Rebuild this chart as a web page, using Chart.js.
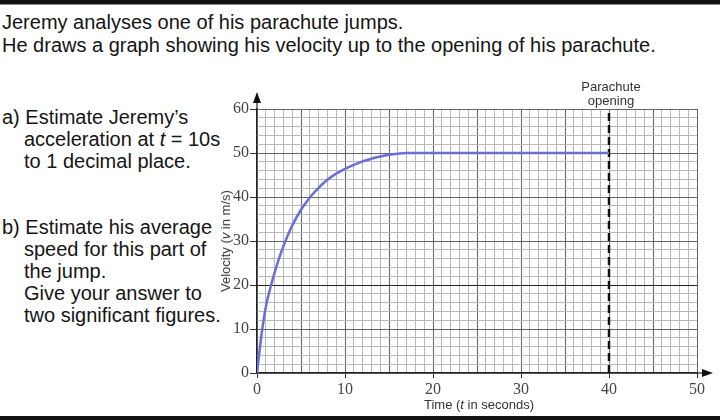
<!DOCTYPE html>
<html>
<head>
<meta charset="utf-8">
<script src="https://cdn.jsdelivr.net/npm/chart.js@4/dist/chart.umd.min.js"></script>
<style>
  html, body { margin: 0; padding: 0; background: #fff; }
  #wrap { position: relative; width: 720px; height: 420px; overflow: hidden; background: #fff;
          font-family: "Liberation Sans", Arial, sans-serif; color: #151515; }
  #c { position: absolute; left: 0; top: 0; }
  .bar-top { position: absolute; left: 0; top: 0; width: 720px; height: 4px; background: #111; border-bottom: 1px solid #888; }
  .bar-bot { position: absolute; left: 0; top: 416px; width: 720px; height: 4px; background: #111; }
  .txt { position: absolute; font-size: 20px; line-height: 22px; white-space: nowrap; }
  .small { position: absolute; font-size: 13px; line-height: 14px; color: #333; white-space: nowrap; }
</style>
</head>
<body>
<div id="wrap">
  <div class="bar-top"></div>
  <div class="txt" style="left:2px; top:11px; line-height:23px;">Jeremy analyses one of his parachute jumps.<br>He draws a graph showing his velocity up to the opening of his parachute.</div>
  <div class="txt" style="left:2px; top:106px;">a) Estimate Jeremy’s</div>
  <div class="txt" style="left:24px; top:128px;">acceleration at <i>t</i> = 10s<br>to 1 decimal place.</div>
  <div class="txt" style="left:2px; top:216px;">b) Estimate his average</div>
  <div class="txt" style="left:24px; top:238px;">speed for this part of<br>the jump.<br>Give your answer to<br>two significant figures.</div>
  <canvas id="c" width="720" height="420"></canvas>
  <div class="small" style="left:611px; top:80px; transform:translateX(-50%); text-align:center;">Parachute<br>opening</div>
  <div class="small" style="left:479px; top:398px; transform:translateX(-50%);">Time (<i>t</i> in seconds)</div>
  <div class="small" style="left:226px; top:241px; transform:translate(-50%,-50%) rotate(-90deg);">Velocity (<i>v</i> in m/s)</div>
  <div class="bar-bot"></div>
</div>
<script>
// Velocity of the fall, sampled along the curve (time in s, velocity in m/s)
const timeS    = [0, 0.5, 1, 1.5, 2, 2.5, 3, 3.5, 4, 5, 6, 7, 8, 9, 10, 11, 12, 13, 14, 15, 16, 17, 18, 20, 25, 30, 35, 40];
const velocity = [0, 8.5, 15, 19.2, 22.8, 26, 28.8, 31.3, 33.5, 37.1, 39.9, 42.1, 43.9, 45.3, 46.4, 47.3, 48.1, 48.7, 49.2, 49.6, 49.85, 50, 50, 50, 50, 50, 50, 50];

// Moment the parachute opens
const openingT = [40, 40];
const openingV = [0, 60];

// Axis ranges and labelled tick steps
const xRange = [0, 50];
const yRange = [0, 60];
const xLabelStep = 10;
const yLabelStep = 10;

const curvePoints = timeS.map((t, i) => ({ x: t, y: velocity[i] }));
const openingPoints = openingT.map((t, i) => ({ x: t, y: openingV[i] }));

const axisArrows = {
  id: 'axisArrows',
  afterDraw(chart) {
    const { ctx, chartArea: a } = chart;
    ctx.save();
    ctx.strokeStyle = '#222';
    ctx.fillStyle = '#111';
    ctx.lineWidth = 1.2;
    // vertical axis extension + arrow head
    ctx.beginPath();
    ctx.moveTo(a.left, a.top);
    ctx.lineTo(a.left, a.top - 10);
    ctx.stroke();
    ctx.beginPath();
    ctx.moveTo(a.left, a.top - 17);
    ctx.lineTo(a.left - 4, a.top - 6);
    ctx.lineTo(a.left + 4, a.top - 6);
    ctx.closePath();
    ctx.fill();
    // horizontal axis extension + arrow head
    ctx.beginPath();
    ctx.moveTo(a.right, a.bottom);
    ctx.lineTo(a.right + 8, a.bottom);
    ctx.stroke();
    ctx.beginPath();
    ctx.moveTo(a.right + 16, a.bottom);
    ctx.lineTo(a.right + 5, a.bottom - 4);
    ctx.lineTo(a.right + 5, a.bottom + 4);
    ctx.closePath();
    ctx.fill();
    ctx.restore();
  }
};

const tickFont = { family: '"Liberation Serif", "Times New Roman", serif', size: 16 };

new Chart(document.getElementById('c'), {
  type: 'line',
  data: {
    datasets: [
      {
        data: curvePoints,
        borderColor: '#6a6ed6',
        borderWidth: 2.5,
        pointRadius: 0,
        cubicInterpolationMode: 'monotone',
        fill: false
      },
      {
        data: openingPoints,
        borderColor: '#111',
        borderWidth: 2.5,
        borderDash: [8, 4],
        pointRadius: 0,
        fill: false
      }
    ]
  },
  options: {
    responsive: false,
    devicePixelRatio: 1,
    animation: false,
    layout: { padding: { left: 215, top: 109, right: 23, bottom: 0 } },
    plugins: { legend: { display: false }, tooltip: { enabled: false } },
    scales: {
      x: {
        type: 'linear',
        min: xRange[0], max: xRange[1],
        afterFit: s => { s.height = 47; },
        ticks: {
          stepSize: 1, autoSkip: false, maxTicksLimit: 100, maxRotation: 0,
          padding: 2, color: '#444', font: tickFont,
          callback: v => (v % xLabelStep === 0 ? v : '')
        },
        grid: {
          color: c => (c.tick && c.tick.value % 5 === 0 ? '#666' : '#b8b8b8'),
          tickColor: c => (c.tick && c.tick.value % xLabelStep === 0 ? '#333' : 'rgba(0,0,0,0)'),
          tickLength: 5,
          lineWidth: 1
        },
        border: { display: true, color: '#222', width: 1.2 }
      },
      y: {
        type: 'linear',
        min: yRange[0], max: yRange[1],
        afterFit: s => { s.width = 42; },
        ticks: {
          stepSize: 2, autoSkip: false, maxTicksLimit: 100,
          padding: 1, color: '#444', font: tickFont,
          callback: v => (v % yLabelStep === 0 ? v : '')
        },
        grid: {
          color: c => {
            if (!c.tick) return '#b8b8b8';
            if (c.tick.value === 20) return '#222';
            return c.tick.value % 10 === 0 ? '#666' : '#b8b8b8';
          },
          tickColor: c => (c.tick && c.tick.value % yLabelStep === 0 ? '#333' : 'rgba(0,0,0,0)'),
          tickLength: 7,
          lineWidth: 1
        },
        border: { display: true, color: '#222', width: 1.2 }
      }
    }
  },
  plugins: [axisArrows]
});
</script>
</body>
</html>
